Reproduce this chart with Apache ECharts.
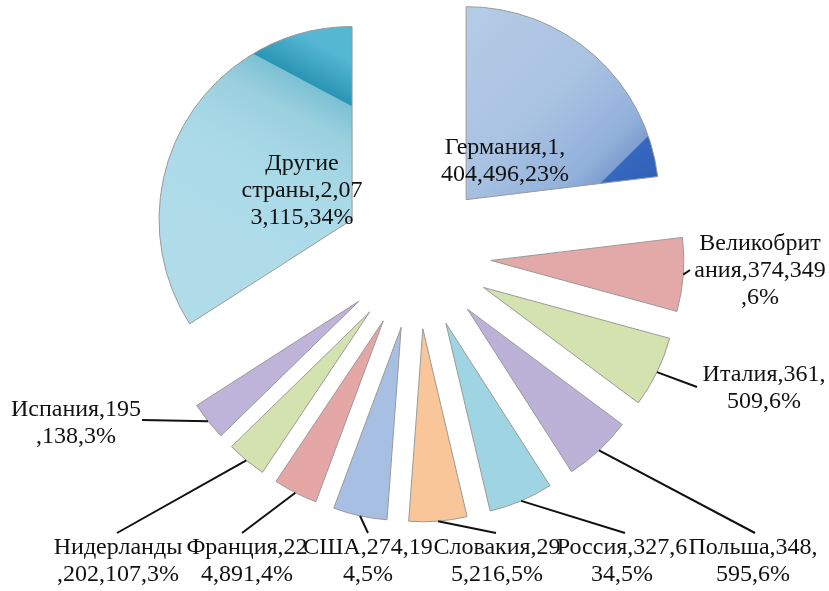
<!DOCTYPE html>
<html>
<head>
<meta charset="utf-8">
<script src="https://cdn.jsdelivr.net/npm/echarts@6/dist/echarts.min.js"></script>
<style>
html, body { margin: 0; padding: 0; background: #fff; }
#chart { width: 829px; height: 591px; }
</style>
</head>
<body>
<div id="chart"></div>
<script>
// export volume by country (as written in the labels)
const countries = ['Германия', 'Великобритания', 'Италия', 'Польша', 'Россия', 'Словакия',
    'США', 'Франция', 'Нидерланды', 'Испания', 'Другие страны'];
const volumes = [1404496, 374349, 361509, 348595, 327634, 295216,
    274194, 224891, 202107, 195138, 2073115];
// character positions where the label text wraps
const labelBreaks = [[11], [10, 22], [11], [11], [12], [11], [10], [10], [10], [11], [7, 18]];

// slice fills
const fills = [
    { type: 'linear', x: 0, y: 0, x2: 1, y2: 1, colorStops: [
        { offset: 0, color: '#b6cce7' }, { offset: 0.45, color: '#aac3e2' },
        { offset: 0.72, color: '#92b1db' }, { offset: 0.805, color: '#7f9fd0' },
        { offset: 0.81, color: '#3568bf' }, { offset: 1, color: '#2d5eb2' }] },
    '#e3a9a8', '#d4e2b0', '#bcb1d7', '#9fd4e2', '#f9c699',
    '#a6bfe2', '#e4a7a6', '#d4e2b0', '#beb3d8',
    // gradient in the slice's own (unexploded) coordinates
    { type: 'linear', global: true, x: 385, y: 80, x2: 286, y2: 266, colorStops: [
        { offset: 0, color: '#55b7d2' }, { offset: 0.185, color: '#2a95b4' },
        { offset: 0.19, color: '#7cc1d4' }, { offset: 0.35, color: '#9bd0df' },
        { offset: 0.6, color: '#a9d9e7' }, { offset: 1, color: '#b0dcea' }] }
];

const CENTER = [417, 255];
const RADIUS = 193;
const EXPLODE = 74;

// label placement (text centre) and leader line end
const labelCenter = [[505, 161], [760, 271], [764, 388], [753, 561], [622, 561], [497, 561],
    [368, 561], [247, 561], [118, 561], [76, 423], [302, 191]];
const lineEnd = [null, [690, 270], [697, 387], [755, 533], [625, 533], [496, 533],
    [368, 533], [242, 533], [117, 533], [142, 420], null];

function labelText(p) {
    const full = p.name + ',' + p.value.toLocaleString('en-US') + ',' + Math.round(p.percent) + '%';
    const cuts = labelBreaks[p.dataIndex];
    const lines = [];
    let s = 0;
    cuts.forEach(c => { lines.push(full.slice(s, c).trim()); s = c; });
    lines.push(full.slice(s).trim());
    return lines.join('\n');
}

const chart = echarts.init(document.getElementById('chart'));

chart.setOption({
    backgroundColor: '#ffffff',
    animation: false,
    series: [{
        // exploded slices
        type: 'pie',
        z: 1,
        center: CENTER,
        radius: [0, RADIUS],
        startAngle: 90,
        clockwise: true,
        selectedMode: 'multiple',
        selectedOffset: EXPLODE,
        silent: true,
        itemStyle: { borderColor: '#9a9a9a', borderWidth: 1 },
        label: { show: false },
        labelLine: { show: false },
        data: countries.map((name, i) => ({
            name: name,
            value: volumes[i],
            selected: true,
            itemStyle: { color: fills[i] }
        }))
    }, {
        // labels only
        type: 'pie',
        z: 5,
        center: CENTER,
        radius: [0, RADIUS],
        startAngle: 90,
        clockwise: true,
        silent: true,
        avoidLabelOverlap: false,
        itemStyle: { color: 'rgba(0,0,0,0)', borderWidth: 0 },
        label: {
            show: true,
            position: 'outside',
            formatter: labelText,
            fontFamily: 'Liberation Serif',
            fontSize: 24,
            lineHeight: 27,
            color: '#111',
            align: 'center'
        },
        labelLine: {
            show: true,
            length: 20,
            length2: 20,
            lineStyle: { color: '#111', width: 2 }
        },
        labelLayout: function (params) {
            const i = params.dataIndex;
            const c = labelCenter[i];
            const out = { x: c[0], y: c[1], align: 'center', verticalAlign: 'middle' };
            if (lineEnd[i] && params.labelLinePoints) {
                const p0 = params.labelLinePoints[0];
                const vx = p0[0] - CENTER[0], vy = p0[1] - CENTER[1];
                const len = Math.sqrt(vx * vx + vy * vy);
                const start = [p0[0] + vx / len * EXPLODE, p0[1] + vy / len * EXPLODE];
                out.labelLinePoints = [start, lineEnd[i], lineEnd[i]];
            }
            return out;
        },
        data: countries.map((name, i) => {
            const inside = i === 0 || i === countries.length - 1;
            return {
                name: name,
                value: volumes[i],
                label: inside ? { position: 'inside' } : {},
                labelLine: inside ? { show: false } : {}
            };
        })
    }]
});
</script>
</body>
</html>
